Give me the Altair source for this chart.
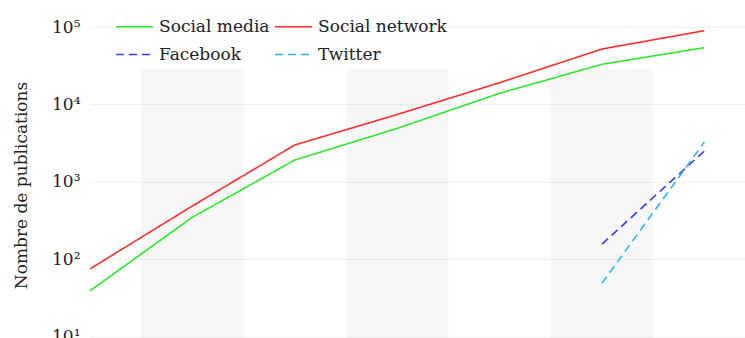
import altair as alt
import pandas as pd

years = [2009, 2010, 2011, 2012, 2013, 2014, 2015]
social_media = [39, 348, 1913, 4897, 13910, 32960, 54030]
social_network = [75, 487, 2989, 7405, 19075, 51960, 89600]
facebook = [None, None, None, None, None, 157, 2500]
twitter = [None, None, None, None, None, 49, 3268]

# legend is filled column by column: this order gives rows
# "Social media | Social network" and "Facebook | Twitter"
series_names = ["Social media", "Facebook", "Social network", "Twitter"]
series_colors = ["#2ee82e", "#3a3aff", "#ff2d2d", "#2eb6f2"]
series_dashes = [[1, 0], [8, 5], [1, 0], [8, 5]]
series_values = {
    "Social media": social_media,
    "Social network": social_network,
    "Facebook": facebook,
    "Twitter": twitter,
}

band_years = [2010, 2012, 2014]
band_top = 28650

rows = []
for name in series_names:
    for y, v in zip(years, series_values[name]):
        if v is not None:
            rows.append({"year": y, "value": v, "series": name})
df = pd.DataFrame(rows)

bands = pd.DataFrame({
    "x0": [b - 0.5 for b in band_years],
    "x1": [b + 0.5 for b in band_years],
    "top": [band_top] * len(band_years),
})

D = 77.4
ymax = 10 ** (5 + 23 / D)
ymin = 10 ** (5 + 23 / D - 334 / D)
xmin = 2009
xmax = 2009 + 655 / 102.4

FONT = "DejaVu Serif"

xscale = alt.Scale(domain=[xmin, xmax], nice=False, zero=False)
yscale = alt.Scale(type="log", domain=[ymin, ymax], nice=False)

band_layer = alt.Chart(bands).mark_rect(color="#000000", opacity=0.032).encode(
    x=alt.X("x0:Q", scale=xscale, axis=None),
    x2="x1:Q",
    y=alt.Y("top:Q", scale=yscale),
    y2=alt.datum(ymin),
)

lines = alt.Chart(df).mark_line(strokeWidth=1.6, clip=True).encode(
    x=alt.X("year:Q", scale=xscale, axis=None),
    y=alt.Y(
        "value:Q",
        scale=yscale,
        axis=alt.Axis(
            values=[10, 100, 1000, 10000, 100000],
            labelExpr="'10' + ['⁰','¹','²','³','⁴','⁵','⁶'][round(log(datum.value)/LN10)]",
            title="Nombre de publications",
            titleFont=FONT,
            titleFontSize=17,
            titleFontWeight="normal",
            titleColor="#222",
            titleX=-69,
            titleY=181,
            titleAngle=270,
            titleAlign="center",
            titleBaseline="middle",
            labelFont=FONT,
            labelFontSize=17,
            labelColor="#222",
            labelPadding=10,
            domain=False,
            ticks=False,
            grid=True,
            gridColor="#f0f0f0",
            gridWidth=1,
        ),
    ),
    color=alt.Color(
        "series:N",
        sort=series_names,
        scale=alt.Scale(domain=series_names, range=series_colors),
        legend=alt.Legend(
            title=None,
            orient="none",
            legendX=25,
            legendY=3,
            columns=2,
            symbolType="M-1,0L1,0",
            symbolSize=1369,
            symbolStrokeWidth=1.6,
            labelFont=FONT,
            labelFontSize=17,
            labelColor="#222",
            labelOffset=5,
            columnPadding=1,
            rowPadding=-14,
            padding=0,
        ),
    ),
    strokeDash=alt.StrokeDash(
        "series:N",
        sort=series_names,
        scale=alt.Scale(domain=series_names, range=series_dashes),
        legend=alt.Legend(title=None),
    ),
)

chart = alt.layer(band_layer, lines).properties(
    width=655,
    height=334,
    autosize=alt.AutoSizeParams(type="none"),
    padding={"left": 90, "top": 4, "right": 0, "bottom": 0},
    background="white",
).configure_view(stroke=None)

chart.save("out.html", embed_options={"renderer": "svg", "actions": False})
